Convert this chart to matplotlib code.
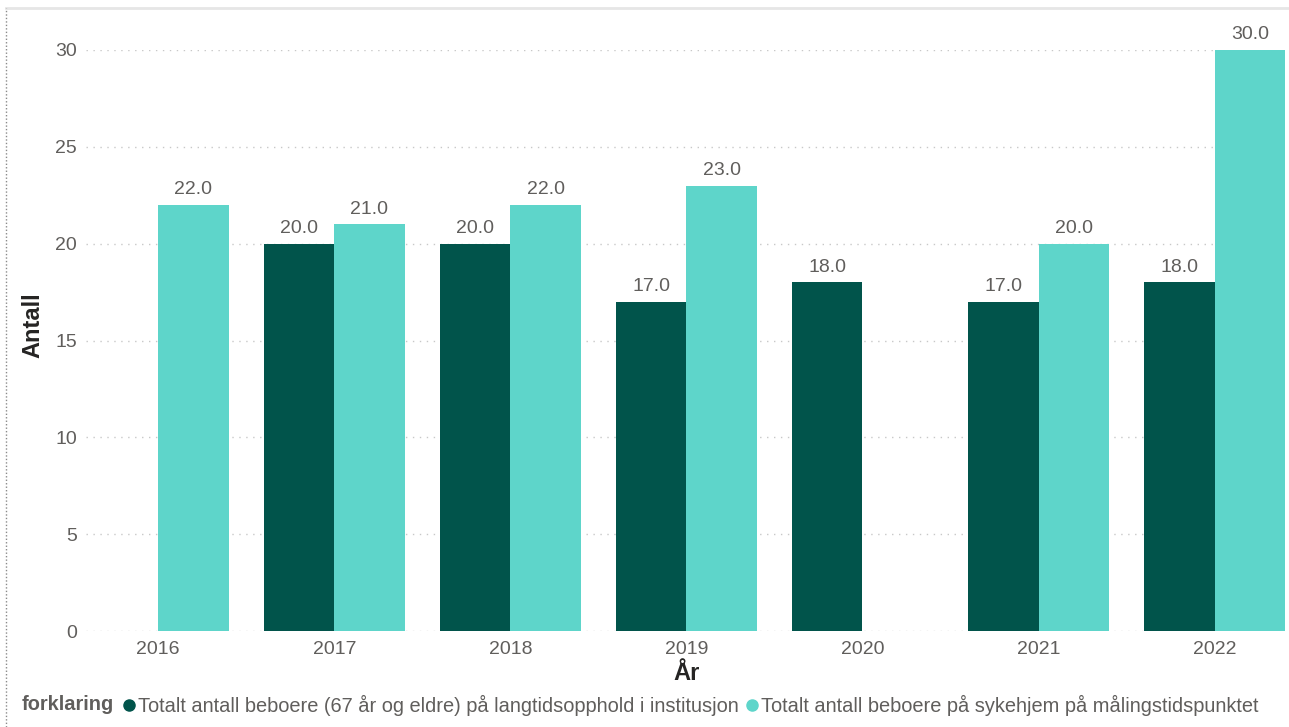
import matplotlib
matplotlib.use("Agg")
import matplotlib.pyplot as plt
import numpy as np
from matplotlib.lines import Line2D

plt.rcParams['font.family'] = ['Liberation Sans', 'DejaVu Sans']

years = ["2016", "2017", "2018", "2019", "2020", "2021", "2022"]
langtid = [np.nan, 20.0, 20.0, 17.0, 18.0, 17.0, 18.0]
sykehjem = [22.0, 21.0, 22.0, 23.0, np.nan, 20.0, 30.0]
series_names = [
    "Totalt antall beboere (67 år og eldre) på langtidsopphold i institusjon",
    "Totalt antall beboere på sykehjem på målingstidspunktet",
]
colors = ["#01544B", "#5ED5CA"]
yticks = [0, 5, 10, 15, 20, 25, 30]

W, H = 1289, 727
fig = plt.figure(figsize=(W / 100, H / 100), dpi=100)
ax = fig.add_axes([86 / W, 1 - 631 / H, (1285 - 86) / W, (631 - 50) / H])

x = np.arange(len(years))
bw = 0.4
text_gray = "#605E5C"
for vals, off, col in [(langtid, -bw / 2, colors[0]), (sykehjem, bw / 2, colors[1])]:
    for xi, v in zip(x, vals):
        if np.isnan(v):
            continue
        ax.bar(xi + off, v, width=bw, color=col, linewidth=0)
        ax.text(xi + off, v + 0.35, f"{v:.1f}", ha="center", va="bottom",
                fontsize=14, color=text_gray, clip_on=False)

ax.set_xlim(-0.41, 6.40)
ax.set_ylim(0, 30)
ax.set_yticks(yticks)
ax.set_xticks(x)
ax.set_xticklabels(years)
ax.tick_params(axis="both", length=0, labelsize=14, labelcolor=text_gray)
ax.tick_params(axis="y", pad=6.4)
ax.tick_params(axis="x", pad=7.5)
ax.yaxis.grid(True, linestyle=(0, (1, 4)), color="#C8C8C8", linewidth=1)
ax.set_axisbelow(True)
for s in ax.spines.values():
    s.set_visible(False)

# axis titles
fig.text(33 / W, 1 - 325 / H, "Antall", fontsize=17, fontweight="heavy",
         color="#252423", rotation=90, ha="center", va="center")
fig.text(687 / W, 1 - 673 / H, "År", fontsize=17, fontweight="heavy",
         color="#252423", ha="center", va="center")

# legend row
ly = 1 - 705 / H
fig.text(22 / W, ly, "forklaring", fontsize=14.4, fontweight="bold",
         color="#605E5C", ha="left", va="center")
for dot_x, name, col in [(129, series_names[0], colors[0]), (752, series_names[1], colors[1])]:
    fig.add_artist(Line2D([dot_x / W], [ly], marker="o", markersize=8,
                          color=col, linestyle="none", transform=fig.transFigure))
    fig.text((dot_x + 9) / W, ly, name, fontsize=14.4, color="#605E5C",
             ha="left", va="center")

# frame: top shadow line and dotted left border
fig.add_artist(Line2D([6 / W, 1], [1 - 8 / H, 1 - 8 / H], color="#E6E6E6",
                      linewidth=2, transform=fig.transFigure))
fig.add_artist(Line2D([6 / W, 6 / W], [0, 1 - 8 / H], color="#8A8A8A",
                      linewidth=1, linestyle=(0, (1, 1.5)), transform=fig.transFigure))

fig.savefig("out.png", dpi=100, facecolor="white")
